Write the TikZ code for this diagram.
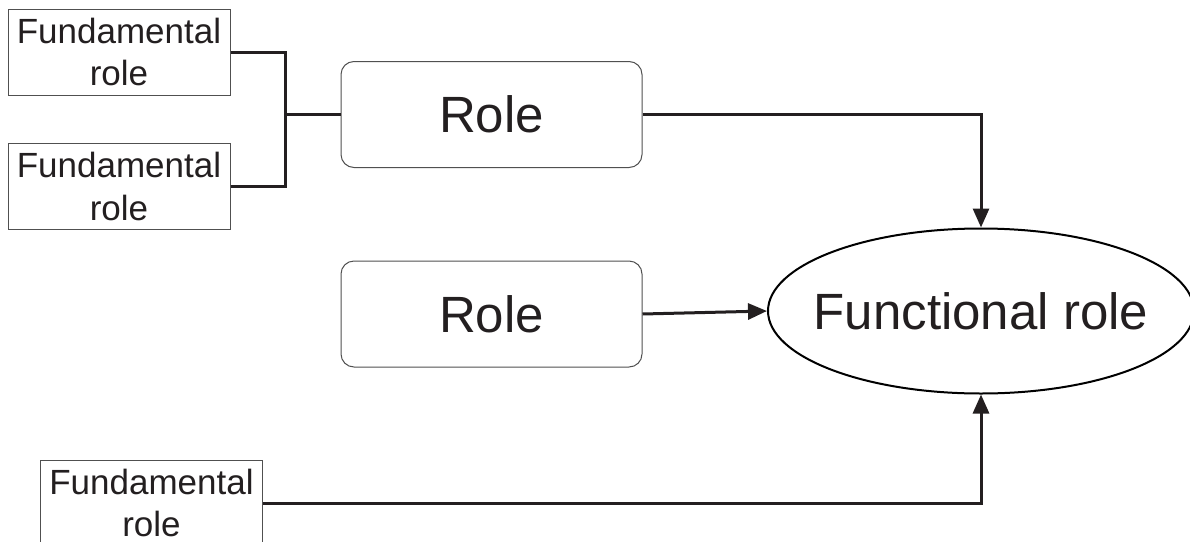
\documentclass[tikz,border=0pt]{standalone}
\usepackage{fontspec}
\setmainfont{Liberation Sans}
\usetikzlibrary{shapes.geometric,arrows.meta}
\definecolor{ink}{HTML}{231F20}
\definecolor{rim}{HTML}{505050}
\begin{document}
\begin{tikzpicture}[x=1pt,y=-1pt,
  fundbox/.style={draw=rim, line width=1pt, minimum width=222pt, minimum height=86pt,
    inner sep=0pt, align=center, text=ink, font=\fontsize{35}{42.5}\selectfont},
  rolebox/.style={draw=rim, line width=1pt, rounded corners=13pt, minimum width=301pt,
    minimum height=106pt, inner sep=0pt, text=ink, font=\fontsize{51}{60}\selectfont},
  funcnode/.style={ellipse, draw=black, line width=2pt, minimum width=426pt,
    minimum height=165pt, inner sep=0pt, text=ink, font=\fontsize{51}{60}\selectfont},
  link/.style={draw=ink, line width=3pt},
  arrowlink/.style={link, -{Triangle[length=19pt,width=16pt]}},
]
\clip (0,0) rectangle (1190,541);

% fundamental roles
\node[fundbox] (f1) at (119,52) {Fundamental\\role};
\node[fundbox] (f2) at (119,186.5) {Fundamental\\role};
\node[fundbox] (f3) at (151.5,503) {Fundamental\\role};

% roles
\node[rolebox] (r1) at (491.5,114.5) {\raisebox{-3pt}{Role}};
\node[rolebox] (r2) at (491.5,314) {\raisebox{-3pt}{Role}};

% functional role
\node[funcnode] (fr) at (981,311) {\makebox[0pt]{\raisebox{-3pt}{Functional role}}};

% joint of the two fundamental roles
\coordinate (jn) at (285,114.5);
\draw[link] (f1.east) -| (jn);
\draw[link] (f2.east) -| (jn);
\draw[link] (jn) -- (r1.west);

% into the functional role
\draw[arrowlink] (r1.east) -| (fr.north);
\draw[arrowlink] (r2.east) -- (fr.west);
\draw[arrowlink] (f3.east) -| (fr.south);
\end{tikzpicture}
\end{document}
